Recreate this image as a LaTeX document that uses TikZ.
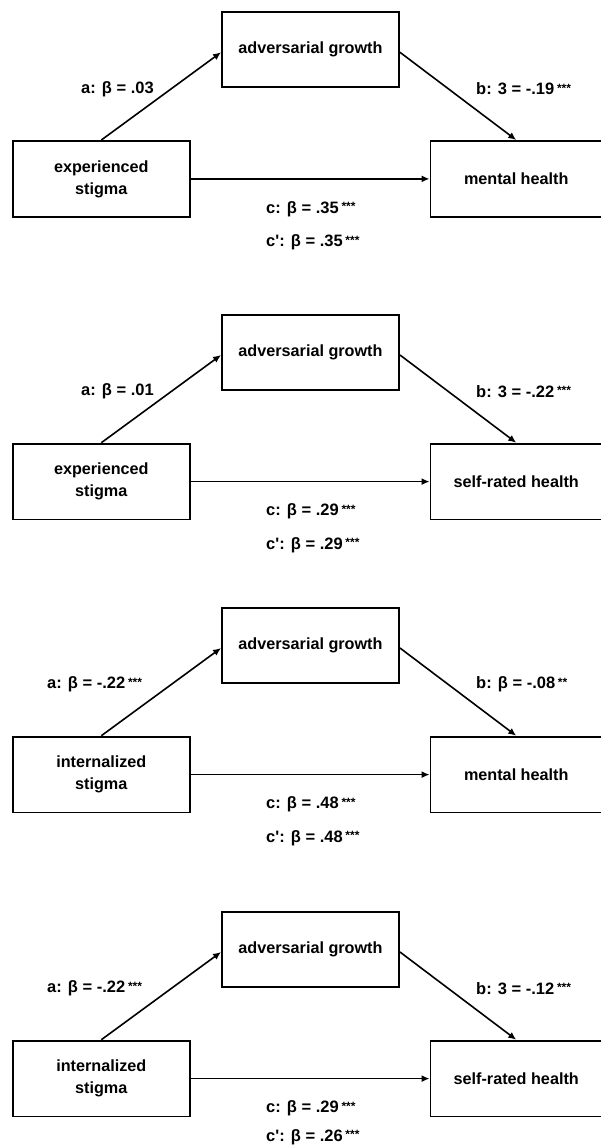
\documentclass[tikz,border=0pt]{standalone}
\usepackage{fontspec}
\setmainfont{Liberation Sans}
\usetikzlibrary{arrows.meta}
\newcommand\sig[1]{\,{\fontsize{12}{12}\selectfont\raisebox{2.5pt}{#1}}}
\newcommand\cpy{230}
\tikzset{
  box/.style={draw=black,line width=1.9pt,inner sep=0pt,align=center,
    font=\bfseries\fontsize{16.2}{22}\selectfont},
  arr/.style={line width=1.6pt,-{Latex[length=8pt,width=7pt]}},
  lbl/.style={inner sep=0pt,font=\bfseries\fontsize{16.5}{19}\selectfont}
}
\newcommand\medpanel[9]{%
\begin{scope}[shift={(0,#2)}]
  \node[box,minimum width=177pt,minimum height=75pt] (m#1) at (310.5,37.5) {adversarial growth};
  \node[box,minimum width=177.4pt,minimum height=75.8pt] (x#1) at (101.3,166.6) {#3};
  \node[box,minimum width=171.5pt,minimum height=75.8pt] (y#1) at (516.25,166.6) {#4};
  \draw[arr] (x#1.north) -- ([yshift=-2.5pt]m#1.west);
  \draw[arr] ([yshift=-2.5pt]m#1.east) -- (y#1.north);
  \draw[arr] (x#1.east) -- (y#1.west);
  \node[lbl,anchor=west] (a#1) at (#5,76.5) {#6};
  \node[lbl,anchor=west] (b#1) at (476,76.5) {#7};
  \node[lbl,anchor=west] (c#1) at (266,196.5) {#8};
  \node[lbl,anchor=west] (cp#1) at (266,\cpy) {#9};
\end{scope}}
\begin{document}
\begin{tikzpicture}[x=1pt,y=-1pt]
\useasboundingbox (0,0) rectangle (600,1147);
\medpanel{1}{12.3}{experienced\\stigma}{mental health}{81}{a: β = .03}{b: 3 = -.19\sig{***}}{c: β = .35\sig{***}}{c\textquotesingle: β = .35\sig{***}}
\medpanel{2}{315}{experienced\\stigma}{self-rated health}{81}{a: β = .01}{b: 3 = -.22\sig{***}}{c: β = .29\sig{***}}{c\textquotesingle: β = .29\sig{***}}
\medpanel{3}{608}{internalized\\stigma}{mental health}{47}{a: β = -.22\sig{***}}{b: β = -.08\sig{**}}{c: β = .48\sig{***}}{c\textquotesingle: β = .48\sig{***}}
\renewcommand\cpy{225}
\medpanel{4}{912}{internalized\\stigma}{self-rated health}{47}{a: β = -.22\sig{***}}{b: 3 = -.12\sig{***}}{c: β = .29\sig{***}}{c\textquotesingle: β = .26\sig{***}}
\end{tikzpicture}
\end{document}
